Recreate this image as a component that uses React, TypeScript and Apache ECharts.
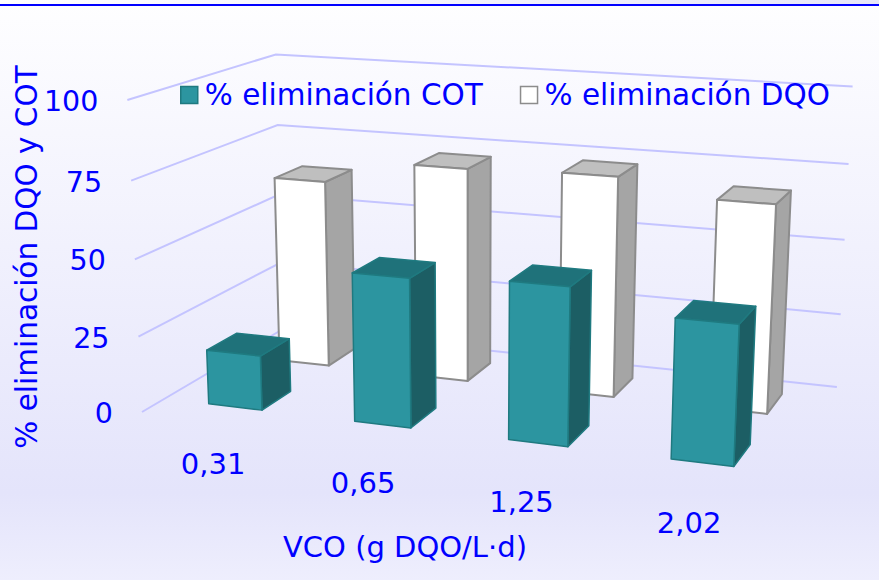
import React, { useEffect, useRef } from "react";
import * as echarts from "echarts";

const categories = ["0,31", "0,65", "1,25", "2,02"];
const cotValues = [18, 48, 50, 43.5];
const dqoValues = [64, 72, 73, 68];
const valueTicks = [0, 25, 50, 75, 100];
const cotName = "% eliminación COT";
const dqoName = "% eliminación DQO";
const xTitle = "VCO (g DQO/L·d)";
const yTitle = "% eliminación DQO y COT";

const BLUE = "#0000ff";
const FONT = "'DejaVu Sans', Verdana, sans-serif";
const W = 879;
const H = 580;

// Perspective camera: homogeneous columns for X (width), Y (depth), Z (height), origin.
const cam = [
  [547, 181.7, -20.09, 142],
  [26.3, -35.76, -316.3, 412],
  [-0.1032, 0.1436, -0.04274, 1],
];
const project = (X: number, Y: number, Z: number): number[] => {
  const h = (r: number[]) => r[0] * X + r[1] * Y + r[2] * Z + r[3];
  const w = h(cam[2]);
  return [h(cam[0]) / w, h(cam[1]) / w];
};

const SLOT = 0.2533 * 4; // share of floor width covered by the four categories

// Chart-space conversion: the hidden grid fills the page, so pixels normalise the axes.
const normalise = (api: any, cat: number, val: number) => {
  const p = api.coord([cat, val]);
  return { X: (p[0] / W) * SLOT, Z: 1 - p[1] / H };
};

const barItem = (row: any, face: any) => (params: any, api: any) => {
  const { X, Z } = normalise(api, api.value(0), api.value(1));
  const cx = X * row.scale + row.shift;
  const x0 = cx - row.width / 2;
  const x1 = cx + row.width / 2;
  const [y0, y1] = row.depth;
  const poly = (pts: number[][], fill: string) => ({
    type: "polygon",
    shape: { points: pts },
    style: { fill, stroke: face.stroke, lineWidth: face.lineWidth, lineJoin: "round" },
  });
  return {
    type: "group",
    children: [
      poly([project(x1, y0, 0), project(x1, y1, 0), project(x1, y1, Z), project(x1, y0, Z)], face.side),
      poly([project(x0, y0, Z), project(x1, y0, Z), project(x1, y1, Z), project(x0, y1, Z)], face.top),
      poly([project(x0, y0, 0), project(x1, y0, 0), project(x1, y0, Z), project(x0, y0, Z)], face.front),
    ],
  };
};

const gridItem = (params: any, api: any) => {
  const v = api.value(0);
  const { Z } = normalise(api, 0, v);
  const a = project(0, 0, Z);
  const b = project(0, 1, Z);
  const c = project(1, 1, Z);
  return {
    type: "group",
    children: [
      {
        type: "polyline",
        shape: { points: [a, b, c] },
        style: { fill: "none", stroke: "#c4c4ff", lineWidth: 2 },
      },
      {
        type: "text",
        x: a[0] - 29,
        y: a[1] + 1.5,
        style: {
          text: String(v),
          fill: BLUE,
          font: `28.5px ${FONT}`,
          align: "right",
          verticalAlign: "middle",
        },
      },
    ],
  };
};

const labelItem = (params: any, api: any) => {
  const i = api.value(0);
  const { X } = normalise(api, i, 0);
  const p = project(X, 0, 0);
  return {
    type: "text",
    x: p[0] - 1,
    y: p[1] + 43.5,
    style: {
      text: categories[i],
      fill: BLUE,
      font: `29px ${FONT}`,
      align: "center",
      verticalAlign: "middle",
    },
  };
};

export default function App() {
  const ref = useRef<HTMLDivElement>(null);
  useEffect(() => {
    document.body.style.margin = "0";
    const chart = echarts.init(ref.current!, undefined, { renderer: "svg" });
    chart.setOption({
      animation: false,
      backgroundColor: {
        type: "linear",
        x: 0,
        y: 0,
        x2: 0,
        y2: 1,
        colorStops: [
          { offset: 0, color: "#fefeff" },
          { offset: 0.85, color: "#e4e4fb" },
          { offset: 1, color: "#eeeefd" },
        ],
      },
      grid: { left: 0, top: 0, width: W, height: H, show: false },
      xAxis: { type: "category", data: categories, show: false },
      yAxis: { type: "value", min: 0, max: 100, show: false },
      legend: {
        left: 175,
        top: 75,
        itemWidth: 17,
        itemHeight: 17,
        itemGap: 37,
        selectedMode: false,
        textStyle: { color: BLUE, fontSize: 29.5, fontFamily: FONT, padding: [0, 0, 0, 2] },
        data: [
          { name: cotName, icon: "rect", itemStyle: { color: "#2c95a0", borderColor: "#1f7a80", borderWidth: 1.5 } },
          { name: dqoName, icon: "rect", itemStyle: { color: "#ffffff", borderColor: "#8c8c8c", borderWidth: 1.5 } },
        ],
      },
      graphic: [
        {
          type: "rect",
          shape: { x: 0, y: 0, width: W, height: 4 },
          style: {
            fill: {
              type: "linear",
              x: 0,
              y: 0,
              x2: 1,
              y2: 0,
              colorStops: [
                { offset: 0, color: "#ffffff" },
                { offset: 1, color: "#e6e6f8" },
              ],
            },
          },
          z: 9,
        },
        {
          type: "rect",
          shape: { x: 0, y: 4, width: W, height: 2 },
          style: { fill: BLUE },
          z: 10,
        },
        {
          type: "text",
          x: 405,
          y: 547,
          style: { text: xTitle, fill: BLUE, font: `29px ${FONT}`, align: "center", verticalAlign: "middle" },
        },
        {
          type: "text",
          x: 27,
          y: 257,
          rotation: Math.PI / 2,
          style: { text: yTitle, fill: BLUE, font: `29.5px ${FONT}`, align: "center", verticalAlign: "middle" },
        },
      ],
      series: [
        {
          type: "custom",
          name: "grid",
          renderItem: gridItem,
          data: valueTicks.map((v) => [v]),
          encode: { y: 0 },
          silent: true,
          z: 1,
        },
        {
          type: "custom",
          name: "cats",
          renderItem: labelItem,
          data: categories.map((_, i) => [i]),
          encode: { x: 0 },
          silent: true,
          z: 1,
        },
        {
          type: "custom",
          name: dqoName,
          renderItem: barItem(
            { scale: 0.991, shift: -0.0005, width: 0.092, depth: [0.65, 0.862] },
            { front: "#ffffff", side: "#a5a5a5", top: "#bfbfbf", stroke: "#8c8c8c", lineWidth: 2 }
          ),
          data: dqoValues.map((v, i) => [i, v]),
          encode: { x: 0, y: 1 },
          itemStyle: { color: "#ffffff" },
          z: 2,
        },
        {
          type: "custom",
          name: cotName,
          renderItem: barItem(
            { scale: 1, shift: -0.001, width: 0.094, depth: [0.145, 0.35] },
            { front: "#2c95a0", side: "#1c5e64", top: "#1f727a", stroke: "#1f7a80", lineWidth: 1.5 }
          ),
          data: cotValues.map((v, i) => [i, v]),
          encode: { x: 0, y: 1 },
          itemStyle: { color: "#2c95a0" },
          z: 3,
        },
      ],
    });
    return () => chart.dispose();
  }, []);
  return <div ref={ref} style={{ width: W, height: H }} />;
}
